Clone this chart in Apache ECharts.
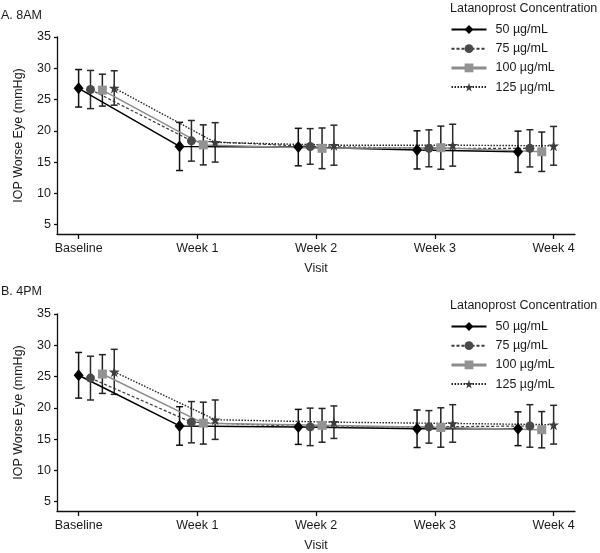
<!DOCTYPE html>
<html>
<head>
<meta charset="utf-8">
<script src="https://cdn.jsdelivr.net/npm/echarts@6/dist/echarts.min.js"></script>
<style>
  html, body { margin: 0; padding: 0; background: #fff; }
  #chart { width: 600px; height: 553px; }
</style>
</head>
<body>
<div id="chart"></div>
<script>
// ---------- DATA ----------
const visits = ['Baseline', 'Week 1', 'Week 2', 'Week 3', 'Week 4'];
const doses = ['50 µg/mL', '75 µg/mL', '100 µg/mL', '125 µg/mL'];
const yTicks = [5, 10, 15, 20, 25, 30, 35];
const panelTitles = ['A. 8AM', 'B. 4PM'];
const legendTitle = 'Latanoprost Concentration';

// A. 8AM  mean IOP (mmHg)
const am_50  = [26.8, 17.5, 17.4, 16.95, 16.65];
const am_75  = [26.6, 18.4, 17.5, 17.2, 17.2];
const am_100 = [26.5, 17.75, 17.2, 17.3, 16.65];
const am_125 = [26.85, 18.15, 17.7, 17.7, 17.6];
// A. 8AM  error (± SD)
const amErr_50  = [3.0, 3.85, 3.0, 3.05, 3.3];
const amErr_75  = [3.05, 3.25, 2.85, 2.95, 2.97];
const amErr_100 = [2.55, 3.2, 3.25, 3.45, 3.15];
const amErr_125 = [2.75, 3.15, 3.2, 3.35, 3.1];

// B. 4PM  mean IOP (mmHg)
const pm_50  = [25.2, 17.1, 16.95, 16.65, 16.65];
const pm_75  = [24.75, 17.7, 16.95, 16.95, 17.1];
const pm_100 = [25.4, 17.55, 17.2, 16.85, 16.5];
const pm_125 = [25.75, 18.1, 17.7, 17.5, 17.3];
// B. 4PM  error (± SD)
const pmErr_50  = [3.65, 3.08, 2.8, 3.0, 2.7];
const pmErr_75  = [3.5, 3.3, 3.0, 2.6, 3.4];
const pmErr_100 = [3.1, 3.35, 2.7, 3.15, 2.9];
const pmErr_125 = [3.6, 3.15, 2.6, 3.0, 3.1];

// ---------- BUILD ----------
const panelMeans = [[am_50, am_75, am_100, am_125], [pm_50, pm_75, pm_100, pm_125]];
const panelErrs  = [[amErr_50, amErr_75, amErr_100, amErr_125], [pmErr_50, pmErr_75, pmErr_100, pmErr_125]];

// horizontal dodge of the four dose groups at each visit
function dodge(v, d) {
  const shift = v === 0 ? 0 : (v === visits.length - 1 ? -0.3 : -0.15);
  return v + shift + d * 0.1;
}

const STAR = 'path://M50,0 L61,35 L98,35 L68,57 L79,91 L50,70 L21,91 L32,57 L2,35 L39,35 Z';
const styles = [
  { symbol: 'diamond', size: [10, 12], color: '#000000', line: { color: '#000000', width: 1.5, type: 'solid' }, err: '#111111' },
  { symbol: 'circle', size: 9, color: '#4a4a4a', line: { color: '#3a3a3a', width: 1.2, type: [3, 2] }, err: '#2a2a2a' },
  { symbol: 'rect', size: 9, color: '#939393', line: { color: '#8c8c8c', width: 1.5, type: 'solid' }, err: '#222222' },
  { symbol: STAR, size: 11, color: '#3c3c3c', line: { color: '#222222', width: 1.4, type: [1.5, 1.5] }, err: '#2a2a2a' }
];

const font = 'Liberation Sans, Arial, sans-serif';
const txt = '#1a1a1a';

const grids = [
  { left: 57, right: 25, top: 37, height: 197 },
  { left: 57, right: 25, top: 314, height: 198 }
];

const xAxes = grids.map((g, i) => ({
  type: 'value', gridIndex: i, min: -0.182, max: 4.18,
  name: 'Visit', nameLocation: 'middle', nameGap: 28,
  nameTextStyle: { fontFamily: font, fontSize: 12.5, color: txt },
  axisLine: { onZero: false, lineStyle: { color: '#111', width: 1.3 } },
  axisTick: { show: true, length: 5, inside: false, customValues: [0, 1, 2, 3, 4], lineStyle: { color: '#111', width: 1.3 } },
  axisLabel: { customValues: [0, 1, 2, 3, 4], margin: 8, fontFamily: font, fontSize: 12.5, color: txt,
    formatter: v => visits[Math.round(v)] || '' },
  splitLine: { show: false }
}));

const yAxes = grids.map((g, i) => ({
  type: 'value', gridIndex: i, min: 3.5, max: 35,
  name: 'IOP Worse Eye (mmHg)', nameLocation: 'middle', nameGap: 32, nameRotate: 90,
  nameTextStyle: { fontFamily: font, fontSize: 12.5, color: txt },
  axisLine: { show: true, onZero: false, lineStyle: { color: '#111', width: 1.3 } },
  axisTick: { show: true, length: 3, customValues: yTicks, lineStyle: { color: '#111', width: 1.3 } },
  axisLabel: { customValues: yTicks, margin: 6, fontFamily: font, fontSize: 12.5, color: txt },
  splitLine: { show: false }
}));

const series = [];
for (let p = 0; p < 2; p++) {
  for (let d = 0; d < doses.length; d++) {
    const st = styles[d];
    const means = panelMeans[p][d];
    const errs = panelErrs[p][d];
    series.push({
      type: 'custom', name: 'err' + p + d, xAxisIndex: p, yAxisIndex: p, z: 1,
      silent: true,
      encode: { x: 0, y: [1, 2] },
      data: means.map((m, v) => [dodge(v, d), m - errs[v], m + errs[v]]),
      renderItem: (params, api) => {
        const x = api.value(0);
        const top = api.coord([x, api.value(2)]);
        const bot = api.coord([x, api.value(1)]);
        const w = 3.5;
        const style = { stroke: st.err, lineWidth: 1.5, fill: null };
        return {
          type: 'group', children: [
            { type: 'line', shape: { x1: top[0], y1: top[1], x2: bot[0], y2: bot[1] }, style },
            { type: 'line', shape: { x1: top[0] - w, y1: top[1], x2: top[0] + w, y2: top[1] }, style },
            { type: 'line', shape: { x1: bot[0] - w, y1: bot[1], x2: bot[0] + w, y2: bot[1] }, style }
          ]
        };
      }
    });
    series.push({
      type: 'line', name: doses[d], xAxisIndex: p, yAxisIndex: p, z: 3,
      data: means.map((m, v) => [dodge(v, d), m]),
      symbol: st.symbol, symbolSize: st.size, showAllSymbol: true,
      itemStyle: { color: st.color },
      lineStyle: st.line,
      animation: false
    });
  }
}

const legends = [23, 320].map(top => ({
  orient: 'vertical', left: 450, top: top, padding: 0,
  itemWidth: 35, itemHeight: 11, itemGap: 6.2,
  textStyle: { fontFamily: font, fontSize: 12.5, color: txt, padding: [0, 0, 0, 4] },
  data: doses.map((n, d) => d === 2 ? { name: n, lineStyle: { width: 3 } } : { name: n }),
  selectedMode: false
}));

const titleStyle = { fontFamily: font, fontSize: 12.5, fontWeight: 'normal', color: txt };
const option = {
  animation: false,
  backgroundColor: '#ffffff',
  title: [
    { text: panelTitles[0], left: 1, top: 9, padding: 0, textStyle: titleStyle },
    { text: panelTitles[1], left: 1, top: 285, padding: 0, textStyle: titleStyle },
    { text: legendTitle, left: 450, top: 2, padding: 0, textStyle: titleStyle },
    { text: legendTitle, left: 450, top: 299, padding: 0, textStyle: titleStyle }
  ],
  legend: legends,
  grid: grids,
  xAxis: xAxes,
  yAxis: yAxes,
  series: series
};

const chart = echarts.init(document.getElementById('chart'), null, { renderer: 'canvas' });
chart.setOption(option);
</script>
</body>
</html>
